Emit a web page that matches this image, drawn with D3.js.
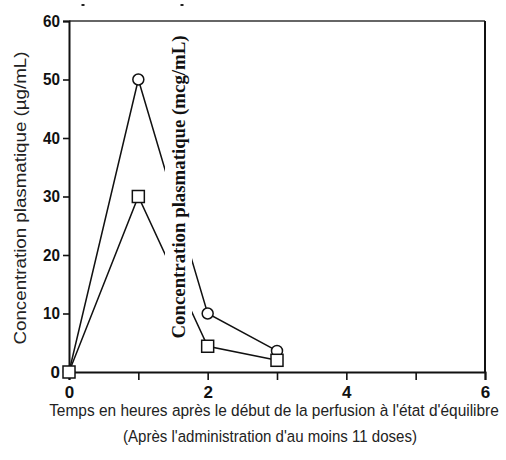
<!DOCTYPE html>
<html><head><meta charset="utf-8">
<script src="https://cdn.jsdelivr.net/npm/d3@7"></script>
<style>body{margin:0;background:#fff}svg{display:block}</style>
</head><body>
<script>
const hours = [0, 1, 2, 3];
const circleSeries = [0, 50, 10, 3.6];
const squareSeries = [0, 30, 4.4, 2];
const xTicks = [0, 1, 2, 3, 4, 5, 6];
const xTickLabels = ["0", "", "2", "", "4", "", "6"];
const yTicks = [0, 10, 20, 30, 40, 50, 60];
const yTitle = "Concentration plasmatique (µg/mL)";
const overlayTitle = "Concentration plasmatique (mcg/mL)";
const xTitle1 = "Temps en heures après le début de la perfusion à l'état d'équilibre";
const xTitle2 = "(Après l'administration d'au moins 11 doses)";

const W = 506, H = 460;
const m = {left: 69, right: 21, top: 21, bottom: 88};
const svg = d3.select("body").append("svg").attr("width", W).attr("height", H);
const x = d3.scaleLinear().domain([0, 6]).range([m.left, W - m.right]);
const y = d3.scaleLinear().domain([0, 60]).range([H - m.bottom, m.top]);
const font = "Liberation Sans, Arial, sans-serif";

// frame top & right
svg.append("line").attr("x1", x(0)).attr("x2", x(6)).attr("y1", y(60)).attr("y2", y(60))
  .attr("stroke", "#333").attr("stroke-width", 1.6);
svg.append("line").attr("x1", x(6)).attr("x2", x(6)).attr("y1", y(60)).attr("y2", y(0))
  .attr("stroke", "#111").attr("stroke-width", 2);

// axes
const xAxis = svg.append("g").attr("transform", `translate(0,${y(0)})`)
  .call(d3.axisBottom(x).tickValues(xTicks).tickFormat((d, i) => xTickLabels[i]).tickSize(8).tickPadding(6));
const yAxis = svg.append("g").attr("transform", `translate(${x(0)},0)`)
  .call(d3.axisLeft(y).tickValues(yTicks).tickSize(6).tickPadding(3));
[xAxis, yAxis].forEach(g => {
  g.select(".domain").attr("stroke", "#111").attr("stroke-width", 2);
  g.selectAll(".tick line").attr("stroke", "#111").attr("stroke-width", 1.6);
  g.selectAll("text").attr("font-family", font).attr("font-size", 17).attr("font-weight", "bold").attr("fill", "#111");
});
yAxis.selectAll("text").filter(d => d >= 10).attr("textLength", 17).attr("lengthAdjust", "spacingAndGlyphs");

// series
const line = d3.line().x((d, i) => x(hours[i])).y(d => y(d));
[circleSeries, squareSeries].forEach(s => {
  svg.append("path").attr("d", line(s)).attr("fill", "none").attr("stroke", "#111").attr("stroke-width", 1.5);
});

// overlay title with white background (cuts the lines)
const ox = 179, oy = 187;
svg.append("rect").attr("x", 165).attr("y", 32).attr("width", 27).attr("height", 312).attr("fill", "#fff");
svg.append("text").attr("transform", `translate(${ox},${oy}) rotate(-90)`)
  .attr("text-anchor", "middle").attr("dy", "0.35em")
  .attr("font-family", "Liberation Serif, Times New Roman, serif").attr("font-weight", "bold")
  .attr("font-size", 18).attr("fill", "#111")
  .attr("textLength", 303).attr("lengthAdjust", "spacingAndGlyphs").text(overlayTitle);

// markers
svg.selectAll("circle.mk").data(circleSeries).join("circle").attr("class", "mk")
  .attr("cx", (d, i) => x(hours[i])).attr("cy", d => y(d)).attr("r", 5.5)
  .attr("fill", "#fff").attr("stroke", "#111").attr("stroke-width", 1.5);
svg.selectAll("rect.mk").data(squareSeries).join("rect").attr("class", "mk")
  .attr("x", (d, i) => x(hours[i]) - 6).attr("y", d => y(d) - 6).attr("width", 12).attr("height", 12)
  .attr("fill", "#fff").attr("stroke", "#111").attr("stroke-width", 1.5);

// y title
svg.append("text").attr("transform", `translate(20,198) rotate(-90)`)
  .attr("text-anchor", "middle").attr("dy", "0.35em")
  .attr("font-family", font).attr("font-size", 16).attr("fill", "#222")
  .attr("textLength", 293).attr("lengthAdjust", "spacingAndGlyphs").text(yTitle);

// x titles (horizontally condensed)
const t1 = svg.append("text").attr("transform", "translate(274,416) scale(0.88,1)").attr("text-anchor", "middle")
  .attr("font-family", font).attr("font-size", 16.5).attr("fill", "#222").text(xTitle1);
const w1 = t1.node().getComputedTextLength();
t1.attr("transform", `translate(274,416) scale(${450 / w1},1)`);
const t2 = svg.append("text").attr("transform", "translate(270,442) scale(0.88,1)").attr("text-anchor", "middle")
  .attr("font-family", font).attr("font-size", 16.5).attr("fill", "#222").text(xTitle2);
const w2 = t2.node().getComputedTextLength();
t2.attr("transform", `translate(270,442) scale(${294 / w2},1)`);

// small cropped marks at the top
[83, 182].forEach(px => svg.append("rect").attr("x", px - 1.5).attr("y", 4).attr("width", 3).attr("height", 2).attr("fill", "#222"));
</script>
</body></html>
